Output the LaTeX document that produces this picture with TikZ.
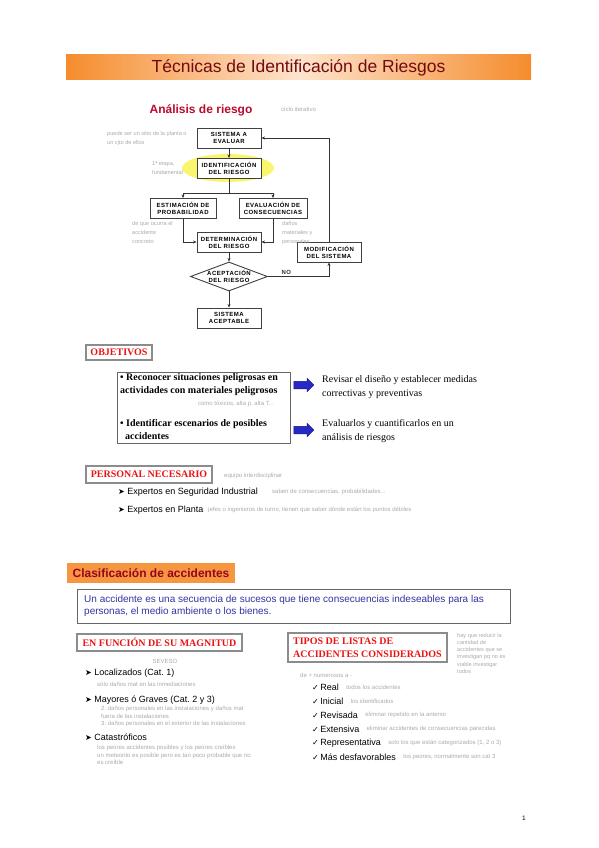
\documentclass[tikz,border=0pt]{standalone}
\usepackage{fontspec}
\setmainfont{Liberation Sans}
\newfontfamily\timesfont{Liberation Serif}
\newfontfamily\dingfont{DejaVu Sans}
\newfontfamily\flowfamily[LetterSpace=8]{Liberation Sans}
\usetikzlibrary{arrows.meta,positioning,shapes.geometric,shapes.arrows}
\definecolor{trorange}{RGB}{245,140,45}
\definecolor{trlight}{RGB}{253,228,205}
\definecolor{trfill}{RGB}{246,150,64}
\definecolor{trdark}{RGB}{115,10,18}
\definecolor{trwine}{RGB}{150,5,30}
\definecolor{trcrimson}{RGB}{185,10,45}
\definecolor{trred}{RGB}{235,20,20}
\definecolor{trblue}{RGB}{50,50,160}
\definecolor{trarrow}{RGB}{40,40,200}
\definecolor{trnote}{RGB}{170,170,170}
\definecolor{tryellow}{RGB}{250,245,110}
\newcommand{\flowfont}{\fontsize{6}{7}\selectfont\flowfamily\bfseries}
\newcommand{\notesize}{\fontsize{6}{7.5}\selectfont}
\newcommand{\headfont}{\fontsize{10}{13}\selectfont\timesfont\bfseries}
\newcommand{\itemsize}{\fontsize{9}{10}\selectfont}

\begin{document}
\frenchspacing
\begin{tikzpicture}[x=1pt,y=-1pt,
  fbox/.style={draw=black!75,line width=0.9pt,fill=white,minimum width=64pt,minimum height=20pt,inner sep=1pt,align=center,font=\flowfont},
  flow/.style={-{Stealth[length=3.5pt,width=3pt]},line width=0.6pt,black!80},
  note/.style={text=trnote,font=\notesize,align=left,inner sep=0pt},
  secbox/.style={draw=black!45,line width=1.1pt,fill=white,inner sep=1pt,text=trred,font=\headfont},
  entry/.style={inner sep=0pt,anchor=west,font=\itemsize},
  bluearrow/.style={single arrow,draw=trarrow!60!black,fill=trarrow,minimum height=20pt,minimum width=13pt,text height=3.5pt,text depth=3.5pt,single arrow head extend=3pt,inner sep=0pt,line width=0.5pt}]
\useasboundingbox (0,0) rectangle (599,848);

% title
\node[left color=trorange,right color=trorange,middle color=trlight,minimum width=465pt,minimum height=25pt,inner sep=0pt,text=trdark,font=\fontsize{17.5}{19}\selectfont] (title) at (298.5,67.5) {Técnicas de Identificación de Riesgos};

% analisis de riesgo
\node[text=trcrimson,font=\fontsize{12}{14}\selectfont\bfseries] (analisis) at (201,110) {Análisis de riesgo};
\node[note,anchor=west] (ciclo) at (281,109) {ciclo iterativo};
\node[ellipse,fill=tryellow,minimum width=92pt,minimum height=28pt,inner sep=0pt] (halo) at (228,168) {};
\node[fbox] (sist) at (229,138) {SISTEMA A\\EVALUAR};
\node[fbox] (ident) at (229,168.5) {IDENTIFICACIÓN\\DEL RIESGO};
\node[fbox,minimum width=66pt] (estim) at (183,208.5) {ESTIMACIÓN DE\\PROBABILIDAD};
\node[fbox,minimum width=68pt] (conse) at (273,208.5) {EVALUACIÓN DE\\CONSECUENCIAS};
\node[fbox] (determ) at (229,242) {DETERMINACIÓN\\DEL RIESGO};
\node[fbox,diamond,aspect=2.6,minimum width=77pt,minimum height=29pt,inner sep=-3pt] (acept) at (229,276.5) {ACEPTACIÓN\\DEL RIESGO};
\node[fbox] (final) at (229,318) {SISTEMA\\ACEPTABLE};
\node[fbox] (modif) at (329,252) {MODIFICACIÓN\\DEL SISTEMA};
\node[note,anchor=north west,font=\fontsize{5.6}{9}\selectfont] (n1) at (107,131) {puede ser un sitio de la planta o\\un cjto de ellos};
\node[note,anchor=north west,font=\fontsize{5.6}{9}\selectfont] (n2) at (152,161) {1ª etapa,\\fundamental};
\node[note,anchor=north west,font=\fontsize{5.6}{9}\selectfont] (n3) at (132,221) {de que ocurra el\\accidente\\concreto};
\node[note,anchor=north west,font=\fontsize{5.6}{9}\selectfont] (n4) at (282,221) {daños\\materiales y\\personales};
\draw[flow] (sist) -- (ident);
\draw[flow] (ident.south) -- ++(0,14) -| (estim.north);
\draw[flow] (ident.south) -- ++(0,14) -| (conse.north);
\draw[flow] (estim.south) |- (determ.west);
\draw[flow] (conse.south) |- (determ.east);
\draw[flow] (determ) -- (acept);
\draw[flow] (acept) -- (final);
\draw[flow] (acept.east) -| node[pos=0.15,above,font=\flowfont,inner sep=2pt] (no) {NO} (modif.south);
\draw[flow] (modif.north) |- (sist.east);

% objetivos
\node[secbox,minimum width=66pt,minimum height=15pt] (objetivos) at (119,352.5) {OBJETIVOS};
\node[draw=black!60,line width=1pt,minimum width=173pt,minimum height=71pt] (objbox) at (203.5,407.5) {};
\node[entry,font=\fontsize{10}{13}\selectfont\timesfont\bfseries,align=left] (obj1) at (120,384.5) {• Reconocer situaciones peligrosas en\\actividades con materiales peligrosos};
\node[note,anchor=east] (obj1note) at (274,404) {como tóxicos, alta p, alta T...};
\node[entry,font=\fontsize{10}{13}\selectfont\timesfont\bfseries,align=left] (obj2) at (120,430) {• Identificar escenarios de posibles\\\hspace*{5pt}accidentes};
\node[bluearrow] (arr1) at (302,385) {};
\node[bluearrow] (arr2) at (302,430) {};
\node[entry,font=\fontsize{10}{13.5}\selectfont\timesfont,align=left] (goal1) at (322,387) {Revisar el diseño y establecer medidas\\correctivas y preventivas};
\node[entry,font=\fontsize{10}{13.5}\selectfont\timesfont,align=left] (goal2) at (322,431) {Evaluarlos y cuantificarlos en un\\análisis de riesgos};

% personal necesario
\node[secbox,minimum width=126pt,minimum height=17pt] (personal) at (149,474.5) {PERSONAL NECESARIO};
\node[note,anchor=west] (pnote) at (224,476) {equipo interdisciplinar};
\node[entry] (exp1) at (118,492) {{\dingfont\fontsize{8}{9}\selectfont ➤} Expertos en Seguridad Industrial};
\node[note,anchor=west] (exp1note) at (272,492) {saben de consecuencias, probabilidades...};
\node[entry] (exp2) at (118,510) {{\dingfont\fontsize{8}{9}\selectfont ➤} Expertos en Planta};
\node[note,anchor=west] (exp2note) at (208,510) {jefes o ingenieros de turno, tienen que saber dónde están los puntos débiles};

% clasificacion
\node[fill=trfill,minimum width=168pt,minimum height=20pt,inner sep=0pt,text=trwine,font=\fontsize{12}{14}\selectfont\bfseries] (clasif) at (151,573) {Clasificación de accidentes};
\node[draw=black!60,line width=1pt,minimum width=433pt,minimum height=34pt,inner sep=0pt] (defbox) at (293.5,606) {};
\node[entry,text=trblue,font=\fontsize{10}{12}\selectfont,align=left] (deftext) at (84,606) {Un accidente es una secuencia de sucesos que tiene consecuencias indeseables para las\\personas, el medio ambiente o los bienes.};

% magnitud
\node[secbox,minimum width=165pt,minimum height=17pt] (magnitud) at (159.5,642.5) {EN FUNCIÓN DE SU MAGNITUD};
\node[note] (seveso) at (165,661) {SEVESO};
\node[entry] (cat1) at (85,673) {{\dingfont\fontsize{8}{9}\selectfont ➤} Localizados (Cat. 1)};
\node[note,anchor=west] (cat1note) at (97,684) {sólo daños mat en las inmediaciones};
\node[entry] (cat2) at (85,700) {{\dingfont\fontsize{8}{9}\selectfont ➤} Mayores ó Graves (Cat. 2 y 3)};
\node[note,anchor=north west] (cat2note) at (101,706) {2: daños personales en las instalaciones y daños mat\\fuera de las instalaciones\\3: daños personales en el exterior de las instalaciones};
\node[entry] (cat3) at (85,737) {{\dingfont\fontsize{8}{9}\selectfont ➤} Catastróficos};
\node[note,anchor=north west] (cat3note) at (97,745) {los peores accidentes posibles y los peores creíbles\\un meteorito es posible pero es tan poco probable que no\\es creíble};

% tipos de listas
\node[secbox,minimum width=159pt,minimum height=29pt,align=left] (tipos) at (367.5,647.5) {TIPOS DE LISTAS DE\\ACCIDENTES CONSIDERADOS};
\node[note,anchor=north west,font=\fontsize{5.6}{7.2}\selectfont] (tiposnote) at (457,633) {hay que reducir la\\cantidad de\\accidentes que se\\investigan pq no es\\viable investigar\\todos};
\node[note,anchor=west] (orden) at (300,675) {de + numerosos a -};
\foreach \i/\y/\tipo/\txt in {1/687/Real/{todos los accidentes},2/701/Inicial/{los identificados},3/715/Revisada/{eliminar repetido en la anterior},4/729/Extensiva/{eliminar accidentes de consecuencias parecidas},5/743/Representativa/{solo los que están categorizados (1, 2 o 3)},6/757/Más desfavorables/{los peores, normalmente son cat 3}}{
  \node[entry] (lista\i) at (312,\y) {{\dingfont\fontsize{8}{9}\selectfont ✓}\,\tipo};
  \node[note,right=7pt of lista\i] (nota\i) {\txt};
}

\node[font=\fontsize{6.5}{7}\selectfont] (pagina) at (524,818) {1};
\end{tikzpicture}
\end{document}
